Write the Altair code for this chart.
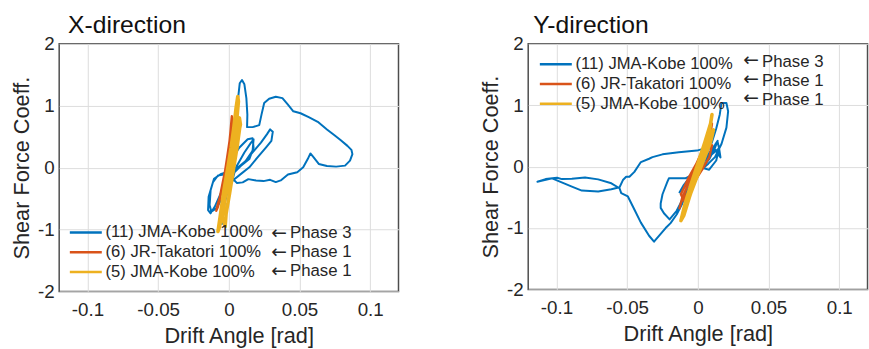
import altair as alt
import pandas as pd

FONT = "Liberation Sans"
TXT = "#262626"

series_names = ["(11) JMA-Kobe 100%", "(6) JR-Takatori 100%", "(5) JMA-Kobe 100%"]
series_colors = ["#0072BD", "#D95319", "#EDB120"]
series_widths = [2.0, 2.4, 3.6]
phase_labels = ["Phase 3", "Phase 1", "Phase 1"]
arrow_glyph = "\u2190"
x_ticks = [-0.1, -0.05, 0, 0.05, 0.1]
y_ticks = [-2, -1, 0, 1, 2]

# ---------------- X-direction ----------------
xdir_11_drift = [0.0000, 0.0028, 0.0075, 0.0133, 0.0168, 0.0175, 0.0145, 0.0086, 0.0016, -0.0054,
                 -0.0105, -0.0129, -0.0136, -0.0124, -0.0089, -0.0042, 0.0005, 0.0051, 0.0110, 0.0157,
                 0.0175, 0.0168, 0.0121, 0.0051, -0.0007, -0.0077, -0.0112, -0.0143, -0.0147, -0.0129,
                 -0.0100, -0.0058, -0.0007, 0.0040,
                 0.0044, 0.0054, 0.0063, 0.0077, 0.0093, 0.0110, 0.0124, 0.0131, 0.0129,
                 0.0168, 0.0215, 0.0231, 0.0250, 0.0285, 0.0332, 0.0379, 0.0418, 0.0456, 0.0507,
                 0.0565, 0.0629, 0.0694, 0.0745, 0.0792, 0.0839, 0.0867, 0.0874, 0.0857, 0.0822,
                 0.0759, 0.0694, 0.0636, 0.0600, 0.0577, 0.0558, 0.0526, 0.0484, 0.0418, 0.0367,
                 0.0332, 0.0292, 0.0245, 0.0192, 0.0138, 0.0098, 0.0058, 0.0028,
                 0.0040, 0.0110, 0.0168, 0.0227, 0.0269, 0.0292, 0.0311, 0.0301, 0.0262, 0.0203,
                 0.0145, 0.0086, 0.0028, -0.0007, -0.0030, -0.0042, -0.0049]
xdir_11_shear = [0.000, 0.165, 0.324, 0.457, 0.473, 0.324, 0.138, 0.032, -0.048, -0.101,
                 -0.181, -0.367, -0.606, -0.713, -0.660, -0.473, -0.234, 0.005, 0.245, 0.404,
                 0.457, 0.271, 0.112, -0.021, -0.101, -0.128, -0.234, -0.473, -0.686, -0.739,
                 -0.633, -0.420, -0.154, 0.059,
                 0.271, 0.644, 1.069, 1.362, 1.415, 1.346, 1.122, 0.856, 0.654,
                 0.654, 0.686, 0.856, 1.043, 1.112, 1.144, 1.122, 1.016, 0.910, 0.878,
                 0.814, 0.739, 0.617, 0.527, 0.441, 0.351, 0.287, 0.218, 0.112, 0.032,
                 0.016, 0.027, 0.059, 0.165, 0.229, 0.138, 0.005, -0.074, -0.112, -0.207,
                 -0.234, -0.197, -0.218, -0.207, -0.186, -0.239, -0.250, -0.181,
                 -0.074, 0.085, 0.245, 0.404, 0.537, 0.617, 0.580, 0.431, 0.324, 0.165,
                 0.005, -0.101, -0.207, -0.367, -0.580, -0.793, -0.910]

xdir_6_drift = [0.0000, 0.0016, 0.0005, -0.0012, -0.0030, -0.0049, -0.0077, -0.0089, -0.0077, -0.0054,
                -0.0026, -0.0002, 0.0012, 0.0021, 0.0028, 0.0016, -0.0007, -0.0035, -0.0065, -0.0082,
                -0.0065, -0.0030, 0.0005, 0.0023, 0.0016, -0.0007]
xdir_6_shear = [0.000, 0.324, 0.431, 0.165, -0.101, -0.367, -0.580, -0.697, -0.633, -0.367,
                -0.048, 0.271, 0.590, 0.830, 0.750, 0.431, 0.112, -0.207, -0.527, -0.660,
                -0.527, -0.154, 0.218, 0.537, 0.378, 0.005]

xdir_5_drift = [0.0000, 0.0028, 0.0051, 0.0068, 0.0063, 0.0051, 0.0035, 0.0016, -0.0007, -0.0035,
                -0.0058, -0.0077, -0.0065, -0.0042, -0.0012, 0.0016, 0.0044, 0.0075, 0.0082, 0.0058,
                0.0028, -0.0002, -0.0030, -0.0047, -0.0026, -0.0019, 0.0005, 0.0035, 0.0058, 0.0077,
                0.0068, 0.0040, 0.0012]
xdir_5_shear = [0.000, 0.324, 0.644, 1.069, 1.149, 0.963, 0.644, 0.324, 0.005, -0.367,
                -0.739, -1.032, -0.952, -0.633, -0.261, 0.112, 0.484, 0.803, 0.697, 0.431,
                0.112, -0.207, -0.527, -0.793, -0.952, -0.739, -0.420, 0.005, 0.324, 0.644,
                0.537, 0.218, -0.101]

# ---------------- Y-direction ----------------
ydir_11_drift = [0.0000, 0.0060, 0.0120, 0.0140, 0.0120, 0.0080, 0.0020, -0.0040, -0.0100, -0.0130,
                 -0.0100, -0.0040, 0.0030, 0.0100, 0.0150, 0.0160, 0.0120, 0.0074,
                 -0.0007, -0.0135, -0.0250, -0.0321, -0.0345, -0.0403, -0.0449, -0.0484, -0.0507,
                 -0.0530, -0.0554, -0.0612, -0.0705, -0.0821, -0.0891, -0.1031, -0.1135,
                 -0.1077, -0.0996, -0.0961, -0.0891, -0.0798, -0.0705, -0.0612, -0.0554, -0.0542,
                 -0.0495, -0.0449, -0.0403, -0.0345, -0.0310,
                 -0.0228, -0.0193, -0.0150, -0.0110, -0.0060, 0.0000, 0.0050, 0.0100, 0.0130,
                 0.0155, 0.0167, 0.0202, 0.0214, 0.0202, 0.0167, 0.0121, 0.0074, 0.0020,
                 -0.0088, -0.0205, -0.0216, -0.0250, -0.0263, -0.0263, -0.0240, -0.0200, -0.0150,
                 -0.0100, -0.0050, 0.0010, 0.0070, 0.0120, 0.0140, 0.0150, 0.0130, 0.0080, 0.0000]
ydir_11_shear = [0.000, 0.150, 0.350, 0.420, 0.300, 0.120, -0.050, -0.200, -0.350, -0.420,
                 -0.300, -0.120, 0.050, 0.200, 0.300, 0.150, 0.280, 0.314,
                 0.261, 0.234, 0.200, 0.154, 0.128, 0.074, -0.086, -0.166, -0.166,
                 -0.219, -0.336, -0.368, -0.406, -0.390, -0.326, -0.192, -0.246,
                 -0.203, -0.182, -0.203, -0.198, -0.176, -0.208, -0.272, -0.352, -0.432,
                 -0.486, -0.699, -0.912, -1.126, -1.222,
                 -1.000, -0.920, -0.780, -0.600, -0.350, -0.080, 0.150, 0.400, 0.620,
                 0.850, 1.035, 1.035, 0.901, 0.635, 0.368, 0.155, 0.048, -0.060,
                 -0.190, -0.190, -0.250, -0.450, -0.600, -0.672, -0.760, -0.860, -0.720,
                 -0.500, -0.280, -0.050, 0.170, 0.320, 0.400, 0.300, 0.100, -0.050, 0.000]

ydir_6_drift = [0.000, 0.005, 0.009, 0.010, 0.008, 0.003, -0.003, -0.008, -0.012, -0.013,
                -0.011, -0.006, 0.000, 0.006, 0.010, 0.008, 0.003, -0.004, -0.010, -0.012,
                -0.007, -0.001, 0.005]
ydir_6_shear = [0.00, 0.25, 0.55, 0.70, 0.55, 0.25, -0.05, -0.35, -0.60, -0.68,
                -0.50, -0.25, 0.05, 0.30, 0.35, 0.15, -0.05, -0.30, -0.55, -0.45,
                -0.20, 0.05, 0.20]

ydir_5_drift = [0.000, 0.004, 0.008, 0.010, 0.009, 0.005, 0.000, -0.005, -0.009, -0.012,
                -0.010, -0.006, -0.001, 0.004, 0.008, 0.011, 0.009, 0.004, -0.002, -0.007,
                -0.010, -0.008, -0.003, 0.002, 0.006, 0.003, -0.002]
ydir_5_shear = [0.00, 0.25, 0.55, 0.85, 0.70, 0.40, 0.05, -0.30, -0.60, -0.88,
                -0.80, -0.50, -0.15, 0.15, 0.45, 0.60, 0.40, 0.10, -0.25, -0.55,
                -0.75, -0.55, -0.20, 0.10, 0.30, 0.20, -0.10]


def make_df(drifts, shears):
    frames = []
    for name, d, s in zip(series_names, drifts, shears):
        frames.append(pd.DataFrame({"drift": d, "shear": s, "series": name, "i": range(len(d))}))
    return pd.concat(frames, ignore_index=True)


df_x = make_df([xdir_11_drift, xdir_6_drift, xdir_5_drift], [xdir_11_shear, xdir_6_shear, xdir_5_shear])
df_y = make_df([ydir_11_drift, ydir_6_drift, ydir_5_drift], [ydir_11_shear, ydir_6_shear, ydir_5_shear])


def panel(df, title, title_dx, w, h, leg_x, leg_y, ann_x, ann_y0, arrow_dy, xtitle_x):
    xaxis = alt.Axis(title="Drift Angle [rad]", values=x_ticks, labelExpr="toString(datum.value)",
                     grid=True, gridColor="#dcdcdc", gridWidth=1, ticks=False, domain=False,
                     labelFont=FONT, labelFontSize=19, labelColor=TXT, labelPadding=9,
                     labelFlush=False, labelOverlap=False,
                     titleFont=FONT, titleFontSize=22, titleFontWeight="normal", titleColor=TXT,
                     titleX=xtitle_x, titleY=52, titleBaseline="alphabetic")
    yaxis = alt.Axis(title="Shear Force Coeff.", values=y_ticks, labelExpr="toString(datum.value)",
                     grid=True, gridColor="#dcdcdc", gridWidth=1, ticks=False, domain=False,
                     labelFont=FONT, labelFontSize=19, labelColor=TXT, labelPadding=5,
                     labelFlush=False, labelOverlap=False,
                     titleFont=FONT, titleFontSize=22, titleFontWeight="normal", titleColor=TXT,
                     titleX=-31, titleBaseline="alphabetic")
    legend = alt.Legend(title=None, orient="none", legendX=leg_x, legendY=leg_y,
                        symbolType="stroke", symbolSize=1050, symbolStrokeWidth=2.6,
                        labelFont=FONT, labelFontSize=16.8, labelColor=TXT, labelOffset=2,
                        labelLimit=400, clipHeight=19.5, rowPadding=0, padding=0)
    layers = []
    for name, sw in zip(series_names, series_widths):
        layers.append(
            alt.Chart(df).transform_filter(alt.datum.series == name)
            .mark_line(strokeWidth=sw, strokeJoin="round", strokeCap="round")
            .encode(
                x=alt.X("drift:Q", scale=alt.Scale(domain=[-0.12, 0.12], nice=False, zero=False), axis=xaxis),
                y=alt.Y("shear:Q", scale=alt.Scale(domain=[-2, 2], nice=False, zero=False), axis=yaxis),
                color=alt.Color("series:N", scale=alt.Scale(domain=series_names, range=series_colors),
                                legend=legend),
                order=alt.Order("i:Q"),
            )
        )
    for k, lab in enumerate(phase_labels):
        layers.append(
            alt.Chart(pd.DataFrame({"t": [arrow_glyph]}))
            .mark_text(align="left", baseline="middle", font="DejaVu Sans", fontSize=19, color=TXT)
            .encode(text="t:N", x=alt.value(ann_x + 1), y=alt.value(ann_y0 + 19.5 * k + arrow_dy))
        )
        layers.append(
            alt.Chart(pd.DataFrame({"t": [lab]}))
            .mark_text(align="left", baseline="middle", font=FONT, fontSize=17, color=TXT)
            .encode(text="t:N", x=alt.value(ann_x + 20), y=alt.value(ann_y0 + 19.5 * k))
        )
    return alt.layer(*layers).properties(
        width=w, height=h,
        title=alt.TitleParams(title, anchor="start", frame="group", font=FONT, fontSize=25,
                              fontWeight="normal", color="#111111", dx=title_dx, offset=-23,
                              baseline="alphabetic"),
    )


left = panel(df_x, "X-direction", 9, 344, 251, 9, 181.5, 214, 191.5, 0, 182)
right = panel(df_y, "Y-direction", 5, 344, 249, 10, 11, 217, 18.5, -2, 172)

chart = (
    alt.hconcat(left, right, spacing=80.5)
    .resolve_scale(color="independent")
    .resolve_legend(color="independent")
    .properties(padding={"left": 10, "top": 10, "right": 0, "bottom": 0}, background="white")
    .configure_view(stroke="#4d4d4d", strokeWidth=1.5)
)

chart.save("out.html", embed_options={"renderer": "svg", "actions": False})
